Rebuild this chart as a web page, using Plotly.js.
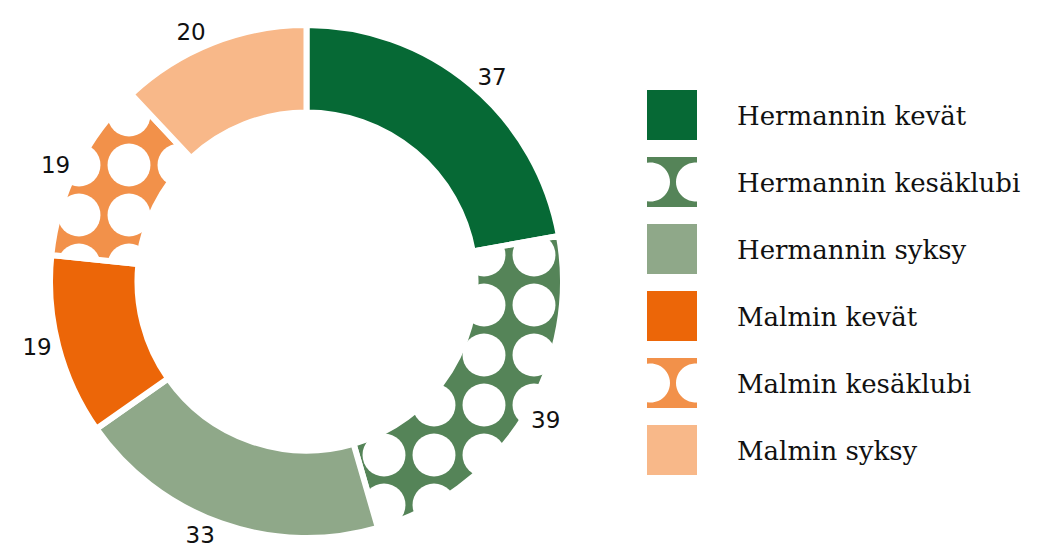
<!DOCTYPE html>
<html>
<head>
<meta charset="utf-8">
<script src="https://cdn.plot.ly/plotly-3.0.1.min.js"></script>
<style>
  html, body { margin: 0; padding: 0; background: #ffffff; }
  #chart { width: 1047px; height: 543px; }
</style>
</head>
<body>
<div id="chart"></div>
<script>
// ---- data ----
var labels = ["Hermannin kevät", "Hermannin kesäklubi", "Hermannin syksy", "Malmin kevät", "Malmin kesäklubi", "Malmin syksy"];
var values = [37, 39, 33, 19, 19, 20];
var colors = ["#066935", "#558458", "#8fa889", "#ec6608", "#f2914a", "#f8b889"];
var patterns = ["", ".", "", "", ".", ""];

// ---- layout helpers ----
var W = 1047, H = 543;
function px(x) { return x / W; }
function py(y) { return 1 - y / H; }

var shapes = [];
var annotations = [];
var swX = 647, swS = 50, rowTop0 = 90, rowStep = 67, textX = 737;

function patternSwatchPath(x0, y0, s) {
  // square with two circular bites (left and right), like the dot pattern tile
  var yc = y0 + s / 2, r = 19.5;
  var cL = x0 + 3.5, cR = x0 + s - 1.5;
  var pts = [];
  pts.push([x0, y0]);
  pts.push([x0 + s, y0]);
  var aR = Math.acos((x0 + s - cR) / r);
  pts.push([x0 + s, yc - r * Math.sin(aR)]);
  var n = 24, i, a;
  for (i = 0; i <= n; i++) {
    a = -aR - (Math.PI * 2 - 2 * aR) * i / n;
    pts.push([cR + r * Math.cos(a), yc + r * Math.sin(a)]);
  }
  pts.push([x0 + s, y0 + s]);
  pts.push([x0, y0 + s]);
  var aL = Math.acos((x0 - cL) / r);
  pts.push([x0, yc + r * Math.sin(aL)]);
  for (i = 0; i <= n; i++) {
    a = aL - 2 * aL * i / n;
    pts.push([cL + r * Math.cos(a), yc + r * Math.sin(a)]);
  }
  var d = "M" + px(pts[0][0]) + "," + py(pts[0][1]);
  for (i = 1; i < pts.length; i++) d += " L" + px(pts[i][0]) + "," + py(pts[i][1]);
  return d + " Z";
}

for (var k = 0; k < labels.length; k++) {
  var rowY = rowTop0 + k * rowStep;
  if (patterns[k] === ".") {
    shapes.push({
      type: "path", xref: "paper", yref: "paper",
      path: patternSwatchPath(swX, rowY, swS),
      fillcolor: colors[k], line: { width: 0 }
    });
  } else {
    shapes.push({
      type: "rect", xref: "paper", yref: "paper",
      x0: px(swX), x1: px(swX + swS), y0: py(rowY + swS), y1: py(rowY),
      fillcolor: colors[k], line: { width: 0 }
    });
  }
  annotations.push({
    xref: "paper", yref: "paper", x: px(textX - 2), y: py(rowY + swS / 2 + 1),
    xanchor: "left", yanchor: "middle", showarrow: false,
    text: labels[k],
    font: { family: "DejaVu Serif", size: 26, color: "#111111" }
  });
}

var trace = {
  type: "pie",
  labels: labels,
  values: values,
  sort: false,
  direction: "clockwise",
  rotation: 0,
  hole: 0.659,
  textinfo: "value",
  textposition: "outside",
  outsidetextfont: { family: "DejaVu Sans", size: 23, color: "#111111" },
  marker: {
    colors: colors,
    line: { color: "#ffffff", width: 6 },
    pattern: {
      shape: patterns,
      fgcolor: "#ffffff",
      fgopacity: 1,
      fillmode: "overlay",
      size: 50,
      solidity: 0.58
    }
  },
  domain: { x: [px(50), px(563)], y: [py(538), py(25)] },
  showlegend: false,
  hoverinfo: "label+value"
};

var layout = {
  width: W, height: H,
  margin: { l: 0, r: 0, t: 0, b: 0 },
  paper_bgcolor: "#ffffff",
  plot_bgcolor: "#ffffff",
  showlegend: false,
  shapes: shapes,
  annotations: annotations
};

// phase of the dot grid in each patterned slice, to line the dots up as in the source
var patternShift = { 1: [9, -20], 4: [4, -10] };

Plotly.newPlot("chart", [trace], layout, { displayModeBar: false, staticPlot: true }).then(function (gd) {
  try {
    var slices = gd.querySelectorAll("g.slice");
    slices.forEach(function (g, idx) {
      var sh = patternShift[idx];
      if (!sh) return;
      var p = g.querySelector("path.surface");
      if (!p) return;
      var f = p.style.fill || p.getAttribute("fill") || "";
      var m = f.match(/#([^"')]+)/);
      if (!m) return;
      var pat = document.getElementById(m[1]);
      if (pat) pat.setAttribute("patternTransform", "translate(" + sh[0] + "," + sh[1] + ")");
    });
  } catch (e) {}
});
</script>
</body>
</html>
